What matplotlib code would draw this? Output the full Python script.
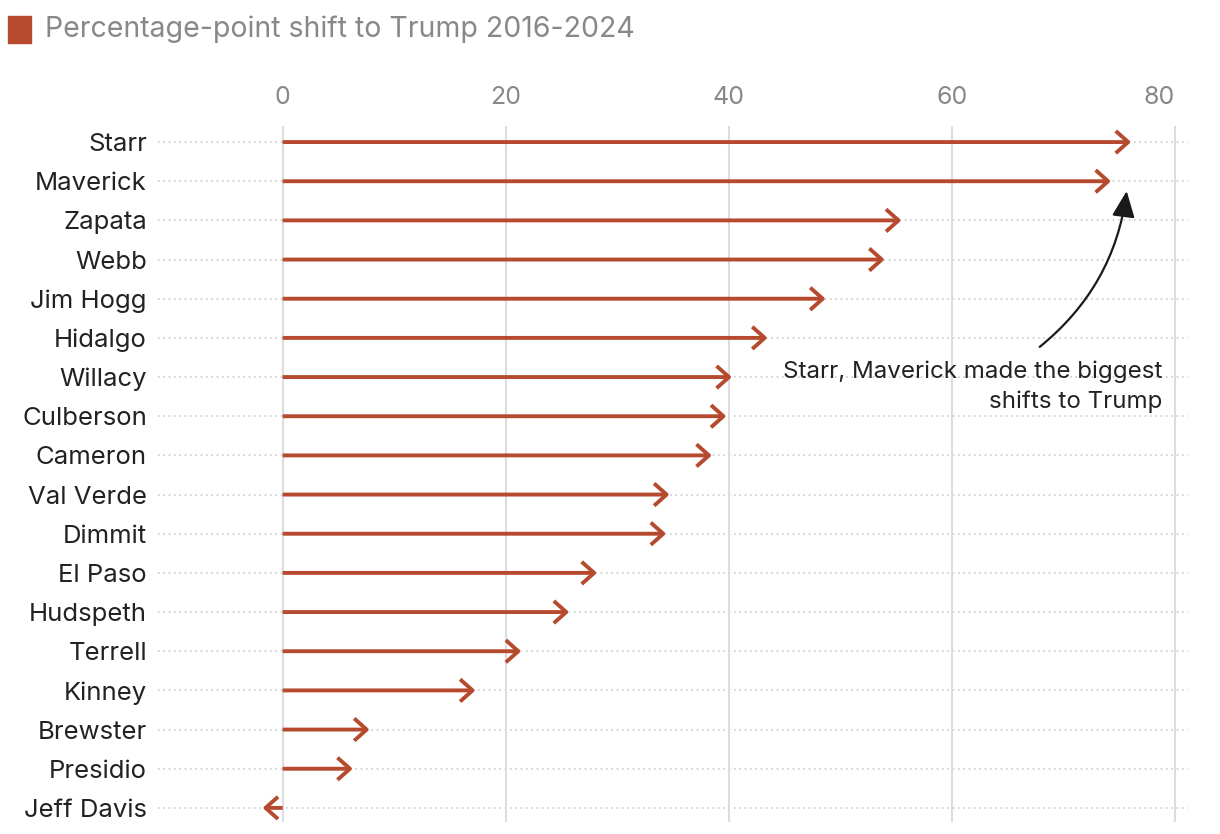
import matplotlib
matplotlib.use("Agg")
import matplotlib.pyplot as plt
from matplotlib.patches import Rectangle

plt.rcParams["font.family"] = ["Inter", "DejaVu Sans"]

counties = ["Starr", "Maverick", "Zapata", "Webb", "Jim Hogg", "Hidalgo",
            "Willacy", "Culberson", "Cameron", "Val Verde", "Dimmit",
            "El Paso", "Hudspeth", "Terrell", "Kinney", "Brewster",
            "Presidio", "Jeff Davis"]
shift = [76.1, 74.3, 55.5, 54.0, 48.7, 43.5, 40.3, 39.8, 38.5, 34.7, 34.4,
         28.2, 25.7, 21.4, 17.3, 7.8, 6.3, -1.8]
xticks = [0, 20, 40, 60, 80]

RED = "#b54a2e"
W, H = 1220, 834

fig = plt.figure(figsize=(W / 100, H / 100), dpi=100)
ax = fig.add_axes([158 / W, 1 - 822 / H, 1030 / W, 696 / H])

ax.set_xlim(-11.18, 81.2)
ax.set_ylim(len(counties) - 0.64, -0.41)

for s in ax.spines.values():
    s.set_visible(False)

for xt in xticks:
    ax.axvline(xt, color="#dddddd", lw=1.5, zorder=1)
for i in range(len(counties)):
    ax.axhline(i, color="#cccccc", lw=1.2, linestyle=(0, (1, 2.2)), zorder=0)

for i, v in enumerate(shift):
    ax.annotate("", xy=(v, i), xytext=(0, i),
                arrowprops=dict(arrowstyle="->,head_length=0.45,head_width=0.4",
                                color=RED, lw=2.8, shrinkA=0, shrinkB=0,
                                mutation_scale=20, capstyle="butt"),
                zorder=3)

ax.xaxis.tick_top()
ax.set_xticks(xticks)
ax.set_xticklabels([str(x) for x in xticks])
ax.tick_params(axis="x", length=0, pad=12, labelsize=18, labelcolor="#888888")
ax.get_xticklabels()[-1].set_horizontalalignment("right")
ax.set_yticks(range(len(counties)))
ax.set_yticklabels(counties)
ax.tick_params(axis="y", length=0, pad=8, labelsize=18.5, labelcolor="#222222")

# annotation
ax.annotate("", xy=(75.7, 1.25), xytext=(67.9, 5.23),
            arrowprops=dict(arrowstyle="-|>,head_length=0.8,head_width=0.35",
                            color="#1a1a1a", lw=1.6, shrinkA=0, shrinkB=0,
                            mutation_scale=20, connectionstyle="arc3,rad=0.2"),
            zorder=4)
ax.text(78.9, 5.58, "Starr, Maverick made the biggest\nshifts to Trump",
        ha="right", va="top", fontsize=17.4, color="#222222",
        multialignment="right", linespacing=1.4, zorder=4)

# header
fig.patches.append(Rectangle((8 / W, 1 - 43 / H), 23 / W, 27 / H,
                             transform=fig.transFigure, color=RED))
fig.text(45 / W, 1 - 37 / H, "Percentage-point shift to Trump 2016-2024",
         ha="left", va="baseline", fontsize=20.5, color="#888888")

fig.savefig("out.png", dpi=100)
